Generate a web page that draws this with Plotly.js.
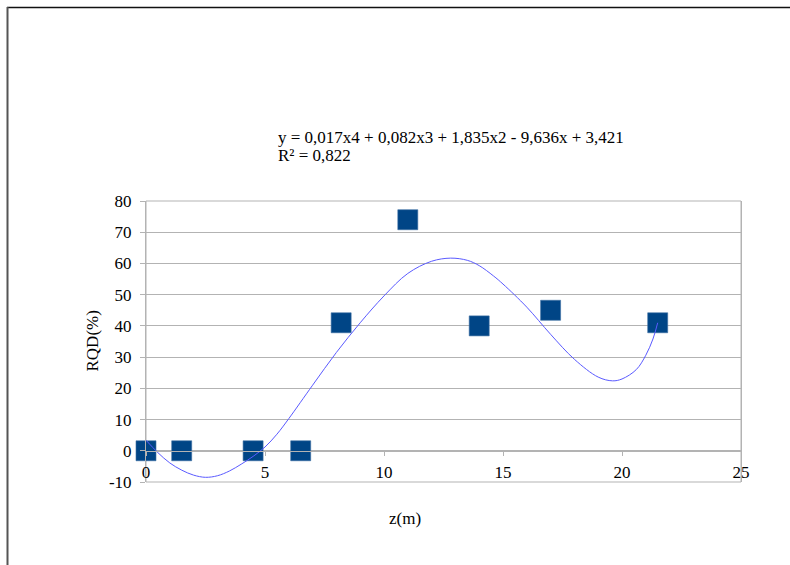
<!DOCTYPE html>
<html>
<head>
<meta charset="utf-8">
<script src="https://cdn.plot.ly/plotly-3.0.1.min.js"></script>
<style>
  html, body { margin: 0; padding: 0; background: #ffffff; }
  #chart { width: 790px; height: 565px; }
</style>
</head>
<body>
<div id="chart"></div>
<script>
// Borehole measurements: depth z (m) against RQD (%)
const depth = [0, 1.5, 4.5, 6.5, 8.2, 11, 14, 17, 21.5];
const rqd = [0, 0, 0, 0, 41, 74, 40, 45, 41];

// Order-4 polynomial trend line, sampled along its course
const trendDepth = [0, 0.5, 1, 1.5, 2, 2.5, 3, 3.5, 4, 4.5, 5, 5.5, 6, 7, 8, 9, 10, 11, 12, 12.8,
                    13.5, 14, 14.6, 15, 16, 17, 18, 19, 19.6, 20, 20.6, 21, 21.3, 21.5];
const trendRqd = [3.4, -0.6, -3.9, -6.2, -7.8, -8.5, -8.0, -6.5, -4.3, -1.8, 1.2, 5.3, 10.3, 21.0, 31.5, 41.0, 49.6, 56.8, 60.7, 61.7,
                  61.0, 59.3, 56.0, 53.4, 46.0, 37.3, 29.3, 23.6, 22.4, 23.0, 26.0, 30.6, 35.8, 41.0];

const xTicks = [0, 5, 10, 15, 20, 25];
const yTicks = [-10, 0, 10, 20, 30, 40, 50, 60, 70, 80];

const equationText = 'y = 0,017x4 + 0,082x3 + 1,835x2 - 9,636x + 3,421';
const r2Text = 'R² = 0,822';
const xTitle = 'z(m)';
const yTitle = 'RQD(%)';

// Plot-area geometry in pixels, used to place the surrounding frame and texts
const W = 790, H = 565;
const M = { l: 146, r: 49, t: 201, b: 83 };
const pw = W - M.l - M.r, ph = H - M.t - M.b;
const px = v => (v - M.l) / pw;
const py = v => (H - M.b - v) / ph;

const FONT = '"Liberation Serif", "Times New Roman", serif';
const FS = 17;
const GRID = '#b3b3b3';

const traces = [
  {
    x: depth, y: rqd, type: 'scatter', mode: 'markers',
    marker: { symbol: 'square', size: 20, color: '#004586',
              line: { color: '#3d6fa3', width: 0.6 } },
    cliponaxis: false, hoverinfo: 'x+y', showlegend: false
  },
  {
    x: trendDepth, y: trendRqd, type: 'scatter', mode: 'lines',
    line: { color: '#5a5aff', width: 1, shape: 'spline', smoothing: 1 },
    hoverinfo: 'skip', showlegend: false
  }
];

const layout = {
  width: W, height: H,
  margin: M,
  paper_bgcolor: '#ffffff', plot_bgcolor: '#ffffff',
  font: { family: FONT, size: FS, color: '#000000' },
  xaxis: {
    range: [0, 25], tickvals: xTicks, ticktext: xTicks.map(String),
    showgrid: false, zeroline: false,
    showline: true, linecolor: GRID, linewidth: 1,
    anchor: 'free', position: (0 - yTicks[0]) / (yTicks[yTicks.length - 1] - yTicks[0]),
    ticks: 'outside', ticklen: 4, tickcolor: GRID, ticklabelstandoff: 2,
    tickfont: { family: FONT, size: FS, color: '#000' }
  },
  yaxis: {
    range: [-10, 80], tickvals: yTicks, ticktext: yTicks.map(String),
    showgrid: true, gridcolor: GRID, gridwidth: 1, zeroline: false,
    showline: true, linecolor: GRID, linewidth: 1, mirror: true,
    ticks: 'outside', ticklen: 5, tickcolor: GRID, ticklabelstandoff: 5,
    tickfont: { family: FONT, size: FS, color: '#000' }
  },
  shapes: [
    // plot-area border
    { type: 'rect', xref: 'paper', yref: 'paper', x0: 0, x1: 1, y0: 0, y1: 1,
      line: { color: GRID, width: 1 }, layer: 'below' },
    // outer chart frame (top and left edges)
    { type: 'line', xref: 'paper', yref: 'paper',
      x0: px(7), x1: px(800), y0: py(7.5), y1: py(7.5),
      line: { color: '#111111', width: 1.5 } },
    { type: 'line', xref: 'paper', yref: 'paper',
      x0: px(7.5), x1: px(7.5), y0: py(7), y1: py(575),
      line: { color: '#555555', width: 2 } }
  ],
  annotations: [
    { text: equationText, xref: 'paper', yref: 'paper', x: px(276), y: py(137),
      xanchor: 'left', yanchor: 'middle', showarrow: false,
      font: { family: FONT, size: FS, color: '#000' } },
    { text: r2Text, xref: 'paper', yref: 'paper', x: px(276), y: py(155),
      xanchor: 'left', yanchor: 'middle', showarrow: false,
      font: { family: FONT, size: FS, color: '#000' } },
    { text: xTitle, xref: 'paper', yref: 'paper', x: px(405), y: py(518),
      xanchor: 'center', yanchor: 'middle', showarrow: false,
      font: { family: FONT, size: FS, color: '#000' } },
    { text: yTitle, xref: 'paper', yref: 'paper', x: px(92), y: py(341.5),
      xanchor: 'center', yanchor: 'middle', textangle: -90, showarrow: false,
      font: { family: FONT, size: FS, color: '#000' } }
  ]
};

Plotly.newPlot('chart', traces, layout, { displayModeBar: false, staticPlot: true });
</script>
</body>
</html>
